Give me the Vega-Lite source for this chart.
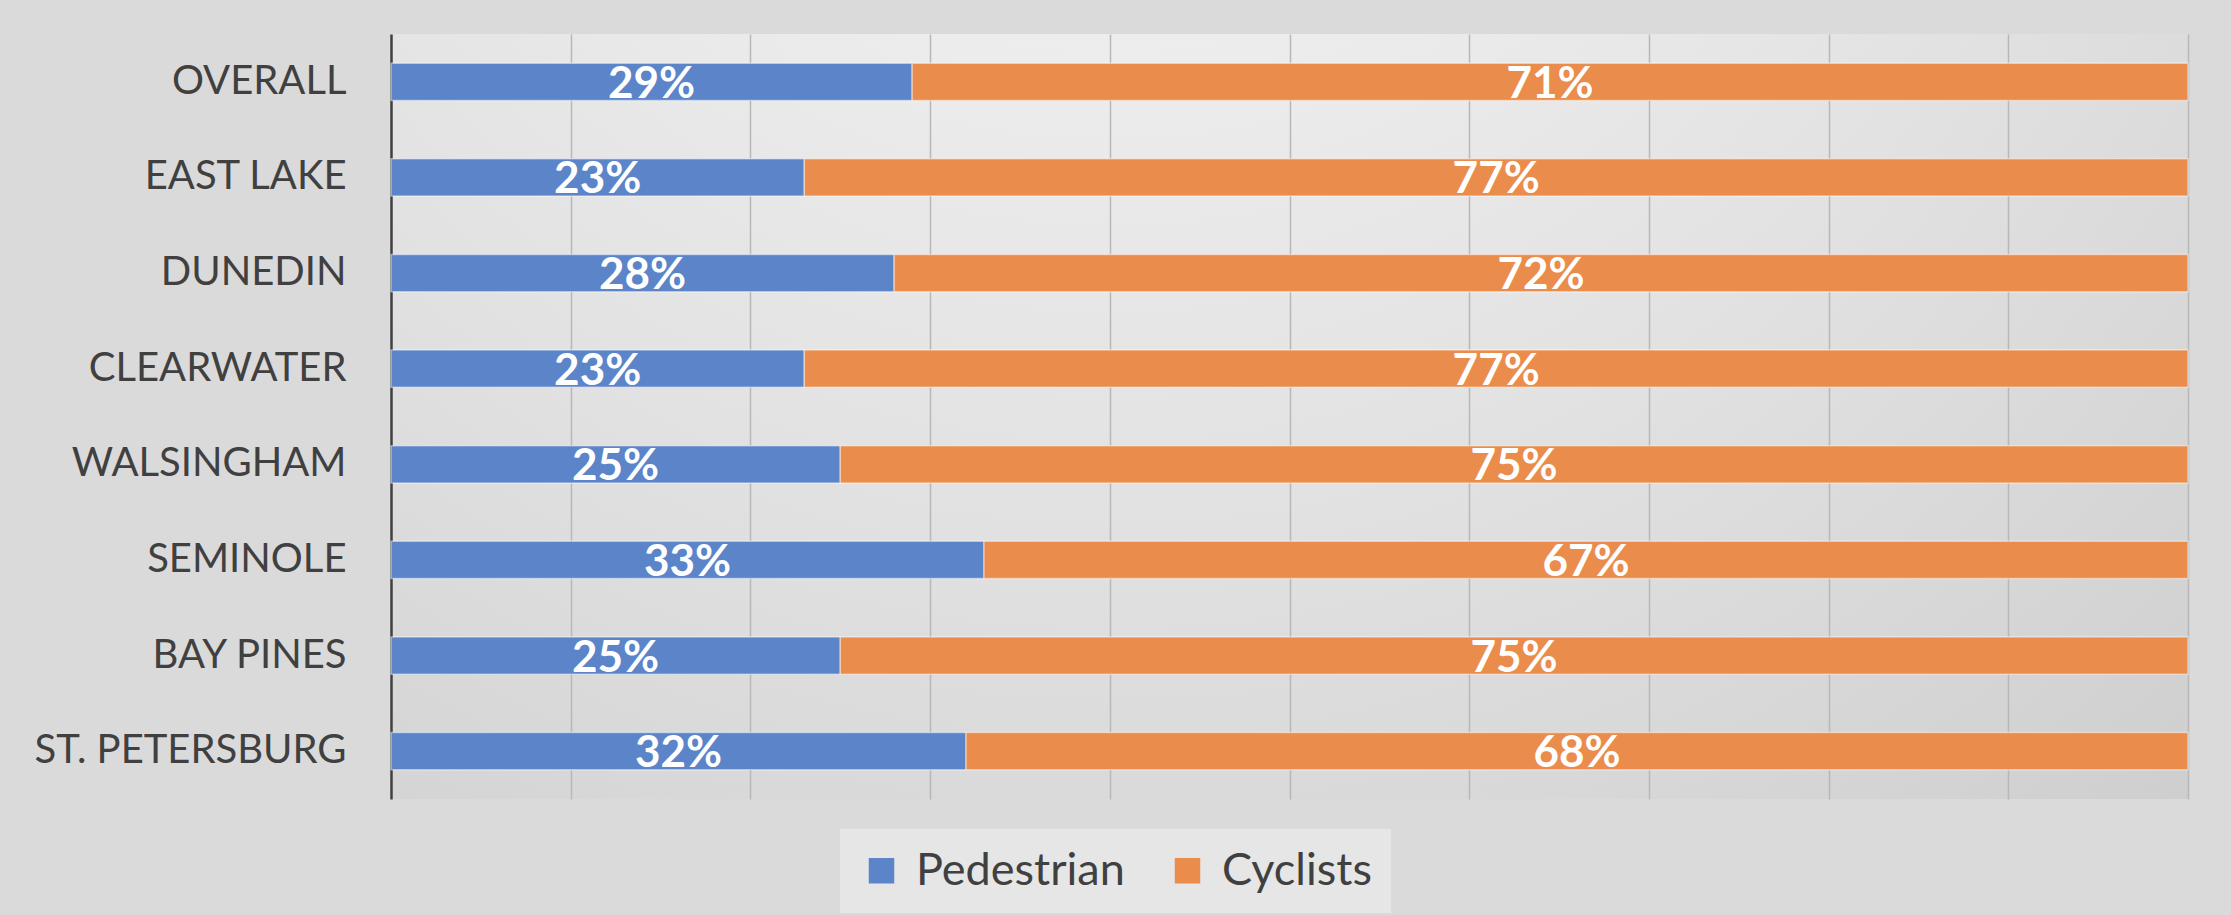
{
  "$schema": "https://vega.github.io/schema/vega-lite/v6.json",
  "width": 1797,
  "height": 765,
  "autosize": {"type": "none"},
  "padding": {"left": 391, "top": 34, "right": 43, "bottom": 116},
  "background": "#dadada",
  "config": {
    "font": "Lato",
    "view": {
      "stroke": null,
      "fill": {
        "gradient": "radial",
        "x1": 0.4, "y1": 0, "r1": 0,
        "x2": 0.4, "y2": 0, "r2": 1.1,
        "stops": [
          {"offset": 0, "color": "#f9f9f9"},
          {"offset": 0.5, "color": "#e2e2e2"},
          {"offset": 1, "color": "#c6c6c6"}
        ]
      }
    }
  },
  "data": {
    "values": [
      {"region": "OVERALL", "group": "Pedestrian", "value": 0.29},
      {"region": "OVERALL", "group": "Cyclists", "value": 0.71},
      {"region": "EAST LAKE", "group": "Pedestrian", "value": 0.23},
      {"region": "EAST LAKE", "group": "Cyclists", "value": 0.77},
      {"region": "DUNEDIN", "group": "Pedestrian", "value": 0.28},
      {"region": "DUNEDIN", "group": "Cyclists", "value": 0.72},
      {"region": "CLEARWATER", "group": "Pedestrian", "value": 0.23},
      {"region": "CLEARWATER", "group": "Cyclists", "value": 0.77},
      {"region": "WALSINGHAM", "group": "Pedestrian", "value": 0.25},
      {"region": "WALSINGHAM", "group": "Cyclists", "value": 0.75},
      {"region": "SEMINOLE", "group": "Pedestrian", "value": 0.33},
      {"region": "SEMINOLE", "group": "Cyclists", "value": 0.67},
      {"region": "BAY PINES", "group": "Pedestrian", "value": 0.25},
      {"region": "BAY PINES", "group": "Cyclists", "value": 0.75},
      {"region": "ST. PETERSBURG", "group": "Pedestrian", "value": 0.32},
      {"region": "ST. PETERSBURG", "group": "Cyclists", "value": 0.68}
    ]
  },
  "transform": [
    {"stack": "value", "groupby": ["region"], "sort": [{"field": "group", "order": "descending"}], "as": ["v0", "v1"]},
    {"calculate": "(datum.v0 + datum.v1) / 2", "as": "mid"}
  ],
  "encoding": {
    "y": {
      "field": "region",
      "type": "nominal",
      "sort": ["OVERALL", "EAST LAKE", "DUNEDIN", "CLEARWATER", "WALSINGHAM", "SEMINOLE", "BAY PINES", "ST. PETERSBURG"],
      "scale": {"paddingInner": 0.61, "paddingOuter": 0.305},
      "axis": {
        "title": null,
        "domain": true,
        "domainColor": "#404040",
        "domainWidth": 2.5,
        "ticks": false,
        "labelFontSize": 40,
        "labelColor": "#404040",
        "labelPadding": 45,
        "labelLimit": 600,
        "labelFont": "Lato"
      }
    }
  },
  "layer": [
    {
      "mark": {"type": "bar", "stroke": "#ffffff", "strokeOpacity": 0.45, "strokeWidth": 1.5},
      "encoding": {
        "x": {
          "field": "v0",
          "type": "quantitative",
          "scale": {"domain": [0, 1], "nice": false},
          "axis": {
            "title": null,
            "labels": false,
            "ticks": false,
            "domain": false,
            "values": [0.1, 0.2, 0.3, 0.4, 0.5, 0.6, 0.7, 0.8, 0.9, 1],
            "grid": true,
            "gridColor": "#b8b8b8",
            "gridWidth": 1.5
          }
        },
        "x2": {"field": "v1"},
        "color": {
          "field": "group",
          "type": "nominal",
          "sort": ["Pedestrian", "Cyclists"],
          "scale": {"domain": ["Pedestrian", "Cyclists"], "range": ["#5b84c9", "#ea8c4c"]},
          "legend": {
            "title": null,
            "orient": "none",
            "legendX": 449,
            "legendY": 795,
            "direction": "horizontal",
            "fillColor": "#e6e6e6",
            "padding": 19,
            "symbolType": "square",
            "symbolSize": 650,
            "symbolStrokeWidth": 0,
            "labelFontSize": 45,
            "labelColor": "#404040",
            "labelFont": "Lato",
            "labelLimit": 400,
            "columnPadding": 40,
            "labelOffset": 12
          }
        }
      }
    },
    {
      "mark": {"type": "text", "color": "white", "fontWeight": "bold", "fontSize": 44, "font": "Lato", "baseline": "middle", "dy": 3},
      "encoding": {
        "x": {"field": "mid", "type": "quantitative"},
        "text": {"field": "value", "type": "quantitative", "format": ".0%"}
      }
    }
  ]
}
